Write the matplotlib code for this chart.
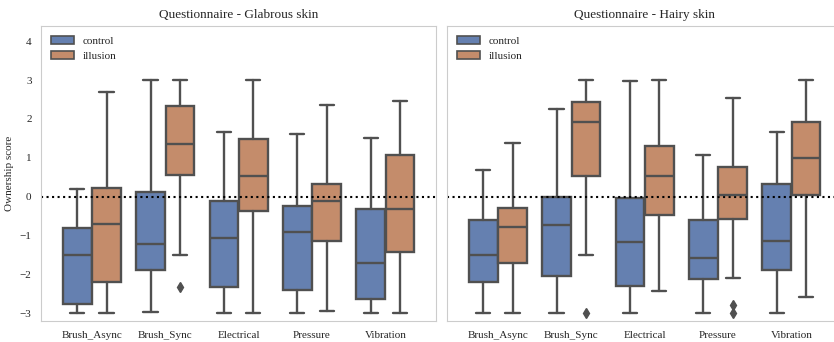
import matplotlib
matplotlib.use("Agg")
import matplotlib.pyplot as plt
import seaborn as sns
from matplotlib.patches import Patch

sns.set_style("white")
plt.rcParams['font.family'] = ['Liberation Serif', 'DejaVu Serif']

stimuli = ["Brush_Async", "Brush_Sync", "Electrical", "Pressure", "Vibration"]
conditions = ["control", "illusion"]

# per stimulus: (whisker low, q1, median, q3, whisker high)
glabrous_control = [(-3.0, -2.75, -1.50, -0.80, 0.20),
                    (-2.97, -1.89, -1.23, 0.13, 3.0),
                    (-3.0, -2.33, -1.07, -0.12, 1.67),
                    (-3.0, -2.40, -0.92, -0.25, 1.60),
                    (-3.0, -2.63, -1.70, -0.33, 1.50)]
glabrous_illusion = [(-3.0, -2.20, -0.70, 0.23, 2.70),
                     (-1.50, 0.55, 1.35, 2.33, 3.0),
                     (-3.0, -0.37, 0.52, 1.48, 3.0),
                     (-2.95, -1.13, -0.10, 0.32, 2.37),
                     (-3.0, -1.43, -0.33, 1.07, 2.45)]
glabrous_control_out = [[], [], [], [], []]
glabrous_illusion_out = [[], [-2.33], [], [], []]

hairy_control = [(-3.0, -2.20, -1.50, -0.60, 0.68),
                 (-3.0, -2.05, -0.73, 0.0, 2.25),
                 (-3.0, -2.30, -1.18, -0.03, 2.97),
                 (-3.0, -2.13, -1.57, -0.60, 1.07),
                 (-3.0, -1.90, -1.13, 0.32, 1.67)]
hairy_illusion = [(-3.0, -1.70, -0.77, -0.30, 1.37),
                  (-1.50, 0.53, 1.93, 2.43, 3.0),
                  (-2.43, -0.47, 0.52, 1.30, 3.0),
                  (-2.10, -0.57, 0.05, 0.75, 2.55),
                  (-2.57, 0.03, 1.00, 1.92, 3.0)]
hairy_control_out = [[], [], [], [], []]
hairy_illusion_out = [[], [-3.0], [], [-2.8, -3.0], []]

panels = [("Questionnaire - Glabrous skin",
           [glabrous_control, glabrous_illusion],
           [glabrous_control_out, glabrous_illusion_out]),
          ("Questionnaire - Hairy skin",
           [hairy_control, hairy_illusion],
           [hairy_control_out, hairy_illusion_out])]

colors = ["#6580b0", "#c48c6b"]
edge = "#505050"
lw = 1.7

fig = plt.figure(figsize=(8.34, 3.42), dpi=100)
ax1 = fig.add_axes([41.3 / 834, 21 / 342, 394.7 / 834, 295 / 342])
ax2 = fig.add_axes([447.3 / 834, 21 / 342, 394.7 / 834, 295 / 342], sharey=ax1)

for ax, (title, groups, outs) in zip([ax1, ax2], panels):
    for k, (vals, fl) in enumerate(zip(groups, outs)):
        stats = []
        for v, f in zip(vals, fl):
            lo, q1, med, q3, hi = v
            stats.append(dict(whislo=lo, q1=q1, med=med, q3=q3, whishi=hi, fliers=f))
        pos = [i - 0.2 + 0.4 * k for i in range(len(stimuli))]
        ax.bxp(stats, positions=pos, widths=0.39, patch_artist=True,
               manage_ticks=False,
               boxprops=dict(facecolor=colors[k], edgecolor=edge, linewidth=lw),
               medianprops=dict(color=edge, linewidth=lw),
               whiskerprops=dict(color=edge, linewidth=lw),
               capprops=dict(color=edge, linewidth=lw),
               flierprops=dict(marker="d", markerfacecolor=edge,
                               markeredgecolor=edge, markersize=5))
    ax.axhline(0, color="black", linestyle=":", linewidth=1.5)
    ax.set_xticks(range(len(stimuli)))
    ax.set_xticklabels(stimuli, fontsize=8)
    ax.set_xlim(-0.69, 4.69)
    ax.set_title(title, fontsize=9.5)
    handles = [Patch(facecolor=colors[k], edgecolor=edge, linewidth=1.2, label=c)
               for k, c in enumerate(conditions)]
    ax.legend(handles=handles, loc="upper left", frameon=False, fontsize=8)
    for s in ax.spines.values():
        s.set_color("#cccccc")

ax1.set_ylim(-3.2, 4.39)
ax1.set_yticks(range(-3, 5))
ax1.tick_params(axis="y", labelsize=8)
ax1.set_ylabel("Ownership score", fontsize=8)
plt.setp(ax2.get_yticklabels(), visible=False)

fig.savefig("out.png", dpi=100)
